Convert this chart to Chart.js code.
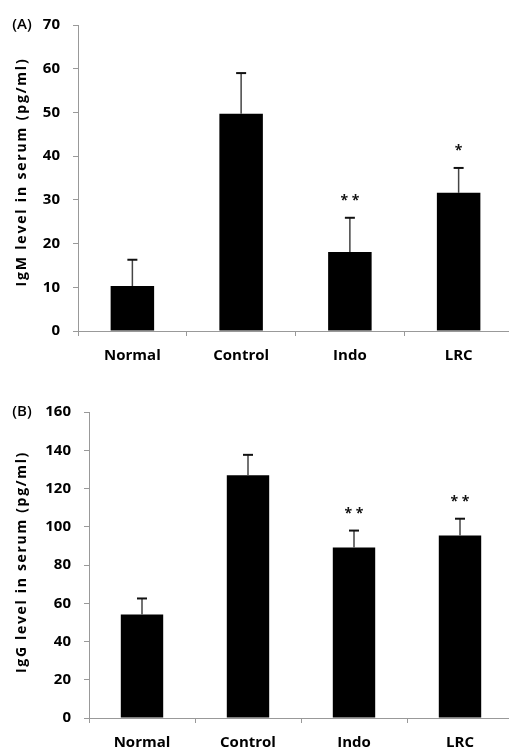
<!DOCTYPE html>
<html lang="en">
  <head>
    <meta charset="UTF-8" />
    <title>IgM / IgG serum levels</title>
    <script src="https://cdn.jsdelivr.net/npm/chart.js"></script>
    <style>
      html, body {
        margin: 0;
        padding: 0;
        background: white;
        overflow: hidden;
      }
      canvas {
        display: block;
      }
    </style>
  </head>
  <body>
    <canvas id="igmChart" width="514" height="376"></canvas>
    <canvas id="iggChart" width="514" height="376"></canvas>

    <script>
      const categories = ['Normal', 'Control', 'Indo', 'LRC']

      // panel A - IgM
      const igmMean = [10.3, 49.7, 18.1, 31.6]
      const igmErr = [6.0, 9.3, 7.8, 5.7]
      const igmStars = ['', '', '**', '*']

      // panel B - IgG
      const iggMean = [54.1, 126.9, 89.1, 95.4]
      const iggErr = [8.4, 10.7, 8.9, 8.8]
      const iggStars = ['', '', '**', '**']

      const FONT = '"Open Sans"'

      // error bars (upper half only), stars, panel letter and the y title
      const extras = {
        id: 'extras',
        afterDatasetsDraw(chart, args, opts) {
          const c = chart.ctx
          const y = chart.scales.y
          const meta = chart.getDatasetMeta(0)
          meta.data.forEach((bar, i) => {
            const x = bar.x
            const top = y.getPixelForValue(opts.mean[i] + opts.err[i])
            c.save()
            c.strokeStyle = '#444'
            c.lineWidth = 1.5
            c.beginPath()
            c.moveTo(x, bar.y)
            c.lineTo(x, top)
            c.stroke()
            c.strokeStyle = '#111'
            c.lineWidth = 2
            c.beginPath()
            c.moveTo(x - 5, top)
            c.lineTo(x + 5, top)
            c.stroke()
            if (opts.stars[i]) {
              c.fillStyle = '#111'
              c.font = 'bold 14px ' + FONT
              c.textAlign = 'center'
              c.textBaseline = 'middle'
              c.fillText(opts.stars[i].split('').join(' '), x, top - 17)
            }
            c.restore()
          })

          c.save()
          c.fillStyle = '#000'
          c.font = '600 15px ' + FONT
          c.textAlign = 'center'
          c.textBaseline = 'middle'
          c.fillText(opts.letter, 22, chart.chartArea.top)

          // rotated axis title, spread out like the original
          c.font = 'bold 14px ' + FONT
          const plain = c.measureText(opts.title).width
          c.letterSpacing = (opts.titleLen - plain) / opts.title.length + 'px'
          c.translate(22, opts.titleY)
          c.rotate(-Math.PI / 2)
          c.fillText(opts.title, 0, 0)
          c.restore()
        },
      }

      function makeChart(id, cfg) {
        return new Chart(document.getElementById(id), {
          type: 'bar',
          data: {
            labels: categories,
            datasets: [
              {
                data: cfg.mean,
                backgroundColor: '#000',
                borderWidth: 0,
                barPercentage: 0.4,
                categoryPercentage: 1,
              },
            ],
          },
          options: {
            responsive: false,
            animation: false,
            layout: {
              padding: { top: cfg.top, right: 1, bottom: 0, left: 0 },
            },
            plugins: {
              legend: { display: false },
              tooltip: { enabled: false },
              extras: cfg,
            },
            scales: {
              x: {
                afterFit: (s) => {
                  s.height = cfg.xh
                },
                grid: {
                  offset: true,
                  drawOnChartArea: false,
                  tickLength: 5,
                  color: '#999',
                },
                border: { color: '#999' },
                ticks: {
                  padding: 11,
                  color: '#000',
                  font: { family: FONT, size: 15, weight: 'bold' },
                },
              },
              y: {
                min: 0,
                max: cfg.max,
                afterFit: (s) => {
                  s.width = cfg.left
                },
                grid: {
                  drawOnChartArea: false,
                  tickLength: 5,
                  color: '#999',
                },
                border: { color: '#999' },
                ticks: {
                  stepSize: cfg.step,
                  padding: 13,
                  color: '#000',
                  font: { family: FONT, size: 15, weight: 'bold' },
                },
              },
            },
          },
          plugins: [extras],
        })
      }

      makeChart('igmChart', {
        mean: igmMean,
        err: igmErr,
        stars: igmStars,
        letter: '(A)',
        title: 'IgM level in serum (pg/ml)',
        titleLen: 229,
        titleY: 172,
        max: 70,
        step: 10,
        top: 25,
        xh: 45,
        left: 78,
      })

      makeChart('iggChart', {
        mean: iggMean,
        err: iggErr,
        stars: iggStars,
        letter: '(B)',
        title: 'IgG level in serum (pg/ml)',
        titleLen: 222,
        titleY: 186,
        max: 160,
        step: 20,
        top: 36,
        xh: 34,
        left: 89,
      })
    </script>
  </body>
</html>
